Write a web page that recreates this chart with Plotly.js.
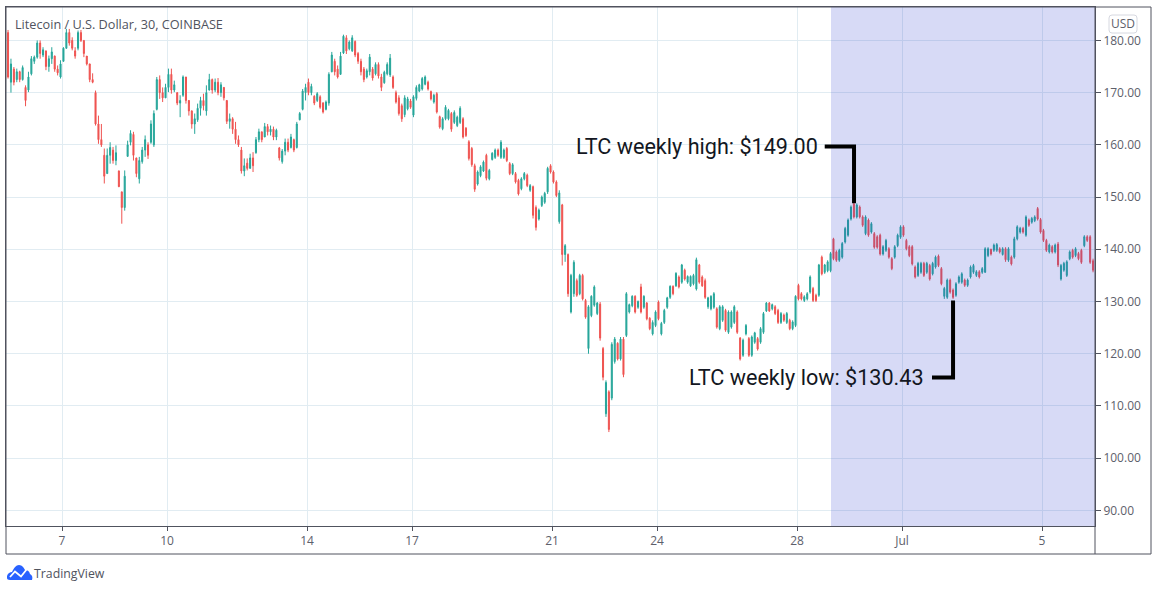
<!DOCTYPE html>
<html><head><meta charset="utf-8">
<script src="https://cdn.plot.ly/plotly-3.0.1.min.js"></script>
<style>html,body{margin:0;padding:0;background:#fff;overflow:hidden}#c{position:absolute;left:0;top:0;width:1158px;height:591px}#logo{position:absolute;left:7px;top:565px}</style>
</head><body><div id="c"></div>
<svg id="logo" width="26" height="16" viewBox="0 0 26 16"><path d="M0 13 L0 11 C1 8 3 7 5 7 C7 3 9 0 12 0 C15 0 17 3 18 5 C21 5 22 6 23 9 C25 10 26 12 25 15 L3 15 C1 15 0 14 0 13 Z" fill="#2962ff"/><path d="M3 12 L8 6.5 L14 11.5 L20 4" fill="none" stroke="#fff" stroke-width="1.8"/></svg>
<script>
const yearStart = "2020-06-05T11:00:00Z";
const stepHours = 2;
const opens = [
181.5,172,174.5,172.5,174,172.5,171,170.5,173.6,176,
176.8,179.5,177.2,178,175,176.5,177,174.5,173,176,
178.5,181.5,180,178,178.5,181.5,180,177,175.5,172.5,
170,164,161,158,154.5,158,159,157,155,151,
148,157.8,160.5,162,157.5,153.5,156.8,159,160,160.5,
160,166.8,172.5,170,169,171,173.5,170.5,170,168,
169.5,173,168.5,166.5,164,164.8,167,168.5,166.5,170.5,
172.5,170.5,172,170,171,168.5,164.5,165,163,161,
159,155,156.5,155.5,157.5,158.5,161,162.5,161.5,163.5,
162.5,163,161.5,159.4,156.8,158.8,160.5,159.5,161,159.5,
164.8,166.8,170,172,170,169.3,168.5,169.2,168,166.8,
168,174,176,174.5,173.5,177.6,180.5,178.4,178,179.8,
177.5,176,174.5,173,174,174.5,173.6,175.4,173,171.9,
173.6,173.4,173,170,169,167.5,165.8,166.9,168.4,165.7,
168.9,170.3,170.7,171.6,172,170.2,168.2,169.8,165.4,163.1,
165,165,166,164.3,163.7,164.3,165,163.2,160.6,159.3,
156,152.5,154.1,155,158,153.5,157.2,157.6,159,157.6,
157.6,159.3,156.4,154.5,154.5,153.2,151.6,153.5,154.2,151.3,
152,148,145.8,148.4,149,151,156,154.8,152.9,145.3,
148.5,139,139,128,131.5,134,131.5,135,130.2,121,
127.3,129.3,127.7,129.5,121,108.5,112.7,111.5,118.5,122,
119,122.8,123.5,128,129.2,131,128.9,132.8,128.9,129.7,
126.8,123.8,125.4,129.9,123.8,126,128.9,130.8,132.9,133,
134.7,133.7,136,133.7,133,133.4,132.4,137,134.7,134,
129,128.6,128.9,128.6,124.8,126.4,128.3,124.1,125.1,126,
128,123,119.7,123.8,122.9,119.7,122.2,122.9,122.2,124.1,
128.2,129.7,128.6,129,128.3,126,127.4,126,126.4,124.8,
125.4,133.1,131.5,130.2,130.5,131.8,132.5,131.2,131.2,138.5,
135.6,135.9,135.9,142,139.5,137.9,138.5,141.4,142.7,145.8,
148.7,146.2,148.1,146.2,143,145.6,143.3,143,142.4,142.7,
139.1,139.8,140.1,138.2,138.5,140.7,142.3,144.3,141.7,140.5,
140.5,136.6,135,135.6,137.3,135.6,136.9,135.3,136.6,138.7,
136.3,131,130.8,134.1,132.2,131.2,133.7,133.7,134.1,133.1,
134.7,135.6,135,135.7,135.6,135.6,138.8,140,139.8,139.8,
140.1,139,140.1,137.9,138.5,138.5,142,143.3,144,142.7,
145.6,145.2,145.5,147.8,145.7,143.6,141.7,139.5,140.5,139.5,
141,134.3,136,135,138.2,139.8,138.8,139.2,139.8,140.7,
142.4,142.4,137.8];
const highs = [
182,176.5,174.9,174.6,174.2,175.2,171.4,174,177,177.1,
180,180,178.7,178,177.1,178.7,177.1,175.2,176.2,178.7,
182.2,182.2,180.6,178.7,181.9,182,180,176.8,175.2,173.7,
170.4,165.6,164,159.3,159.3,160.5,159.6,159.9,155.1,151,
155.1,160.8,162.8,162.5,157,157.7,159.6,161.8,160.5,164.7,
166.6,173,173.3,171,171.7,174.6,174.6,172.3,169.8,169.5,
173.3,171.7,167.9,166.6,166,167.9,169.2,169.8,171.4,173.6,
172.7,172.7,172.8,172,170.4,167.2,166,165.3,164.4,161.8,
159.6,157.4,157.4,158.3,158.6,161.5,163.1,162.5,164.2,164,
163.7,163.5,163.1,159.6,159.2,161.2,161.2,162.1,161.2,164.4,
166.3,170.7,171.7,172.7,171.7,169.5,170.1,169.5,168.2,168.5,
173.9,177.8,176.5,175.2,177.8,181.1,181,180,181,180,
177.8,176.5,174.9,174.6,177.4,174.9,175.8,175.8,173.6,174.2,
175.8,177.4,173.3,170.4,169.5,167.9,169.5,169.2,168.8,169.5,
171.4,171.7,173,173.3,172.3,170.4,169.8,170.1,165.6,165.3,
167.6,166.9,166.3,166.6,165.6,167.4,165.3,163.4,160.9,159.6,
156.4,155.1,156.1,157,158.3,155.4,158.6,159.3,159.3,160.9,
159.3,159.6,156.7,156.5,154.8,153.5,153.8,154.8,154.5,152.5,
152.2,148.4,147.8,150.3,151,155.8,156.3,155.1,153.2,151.3,
148.7,141,139.2,135.3,137.9,134.4,135.3,135.3,130.5,129.3,
131.2,133.1,129.9,129.9,121.3,114.9,113,122.2,123.2,122.2,
123.2,123.2,131.8,129.6,131.2,131.2,130.2,133.4,131.2,129.9,
127,126.4,128.3,130.2,126.1,128.6,130.9,133.1,133.1,135.6,
135,137.2,136.3,135,135,135.3,138.4,137.2,135,134.4,
130.9,131.2,131.8,128.9,129.3,129.3,128.6,128.3,128.3,129.3,
128.3,123.2,122.9,125.7,123.2,123.5,124.2,123.2,125.1,128,
129.9,129.9,129.6,129.3,128.6,128,127.7,128,126.7,126.4,
131.2,133.4,131.8,131.2,131.8,135,132.8,131.5,137.2,138.8,
137.2,137.9,139.5,142.2,139.8,140.1,141.4,144.3,145.9,148.4,
149,148.8,148.4,146.5,146.5,145.9,145.2,143.3,142.7,143,
140.8,142,140.4,138.5,140.8,143,144.6,144.6,142,140.8,
140.8,136.9,137.6,137.6,137.6,137.6,137.2,137.6,138.8,139,
136.6,132.8,134.4,134.4,132.5,133.7,135,135.6,134.4,134.4,
136.9,137.2,136,136,136.6,140.4,140.4,140.1,141.1,141.2,
140.4,140.4,140.4,140.4,138.8,142.4,144.6,144.3,144.3,146.5,
145.9,146.2,146.5,148.1,146,143.9,142,141.1,140.8,141.1,
141.4,137.2,137.6,137.9,139.8,140.1,140.4,139.5,140.1,142.7,
142.7,142.7,138.2];
const lows = [
172.7,170,171.4,172,172,172.3,167.4,170.1,173.3,175.5,
176.5,176.5,176.8,174.3,174,175.5,174,173.3,172.7,176.2,
178.4,179,178.1,176.5,178.1,179.7,176.8,175.2,172,171.8,
163.7,160.2,159.6,152.6,154.5,156.4,156.4,156.1,151.9,144.9,
147.4,157.7,159.9,157,153.8,152.6,156.4,157.7,157.3,160.2,
159.6,166.6,168.8,168.2,169.2,170.1,169.8,170.1,167.6,165.3,
169.2,167.9,165.6,163.1,162.1,164.4,165.6,166.6,165.6,170.4,
169.8,170.1,169.5,169.2,168.5,164,163.1,162.1,160.2,159.6,
154.5,154,155.1,156.1,154.8,158.3,160.5,160.5,161.5,161.8,
161.8,160.9,160.9,157,156.4,158,158.6,159.3,158.6,159.3,
164.7,166.6,168.5,169.5,169.5,167.6,168.2,166.9,166,166.6,
167.5,173.9,173.3,172.7,174.3,177.4,177.4,178.1,177.8,176.8,
175.5,173.3,172,172.7,173.3,172.3,173.3,172.7,170.3,171.7,
173.3,173,170.7,167.9,165.6,164.4,165.3,166.6,166.9,165.3,
168.5,170.1,170.4,171.4,170.4,168.5,167.9,166,163.1,162.8,
164.7,164.7,162.5,164,163.4,164,161.2,161.5,157,155.8,
151,152.2,153.8,154.8,153.2,153.2,157,157.3,157.7,157.3,
157.3,156.7,154.2,154.2,152.6,150.3,151.3,153.2,151.9,151,
145.9,143.6,145.5,148.1,148.7,150.6,154.5,152.6,150,144.9,
136.9,137.6,130.9,127.7,130.9,130.9,131.2,130.2,126.7,120,
127,129,127.4,122.5,114.9,107.9,105,111.1,118.1,118.7,
118.7,115.5,123.2,127.7,128.9,127.7,128.6,127.7,128.6,126.4,
124.5,123.5,125.1,126.4,123.5,125.7,128.6,130.5,131.2,132.8,
132.5,133.4,134,133.4,132.8,133.1,132.1,133.4,132.8,130.5,
128.6,128.3,128.6,124.8,124.5,126.1,124.2,123.8,124.8,125.7,
123.8,118.7,119.4,123.5,119.4,119.4,121.9,120.6,121.9,123.8,
128,128,128.3,127.4,125.7,125.7,126.1,125.7,124.5,124.5,
125.1,130.2,130.2,129.9,130.2,131.5,129.9,129.9,130.9,135,
135.3,135.6,135.6,137.9,137.6,137.6,138.2,141.1,142.4,145.5,
145.9,145.9,145.9,144.3,142.7,142.4,143,140.1,140.1,138.8,
138.8,139.5,138.2,136,138.2,140.4,142,142.4,139.8,138.5,
136.9,134.4,134.7,135.3,134.7,135.3,134,135,136.3,136.6,
133.1,130.5,130.5,131.5,130.5,130.9,133.4,133.4,132.8,132.8,
134.4,135.3,134.7,134.4,135.3,135.5,138.5,138.8,139.5,139.5,
139.2,138.8,137.6,137.6,136.9,138.2,141.7,143,143,142.4,
144.3,144.9,145.2,145.5,143,141.4,139.5,139.2,139.2,139.2,
136.6,134,135.7,134.7,137.9,138.2,138.5,137.9,137.2,140.4,
141.4,137.2,135.6];
const closes = [
173,175.5,172,174,172.5,174.8,168.5,173,176.5,176.8,
179.5,177.5,178.2,175,176.5,177.8,174.5,173.8,175.5,178.5,
181.5,179.5,178.5,177,181.5,180,177.5,175.5,172.5,172,
164,161,160,154,158,159.5,157,158.5,152,148,
154,160,162.2,158,154.5,157,159,161,158,164,
166,172.5,170,169,171,173.5,170.5,171.5,168,168.5,
173,168.5,166.5,164,165,167,168.5,167.5,170,172.5,
170.5,172,170,171.5,169,164.5,165,163,161,160,
155,156,155.5,157.5,156,161,162.5,161,163.5,162.5,
163,161.5,162.8,157.5,158.8,160.5,159,161.5,159,164,
166,170.3,171,170,171.2,168,169.8,167.2,166.3,168.2,
173.5,177.2,174,173,177,180.8,178,179.7,180.5,177.2,
176,174,172.5,174.2,176.8,172.8,175.4,173.2,171,173.9,
175.4,176.6,171,168.2,166,165,169,168.8,167.2,169.2,
171,171.5,172.7,173,170.7,168.8,169.5,166.3,163.4,165,
167.2,166.6,163,166.2,165.3,167,161.5,161.8,157.4,156.2,
151.5,154.8,155.8,156.7,153.6,155.1,158.4,159,158,160.5,
159,157,154.5,156.2,152.9,150.6,153.5,154.5,152.2,152.2,
146.5,144.2,147.5,150,150.7,155.5,154.8,152.9,150.3,150.8,
139,140.7,131.5,135,137.5,131.2,135,130.5,127,129,
131,132.8,129.7,123,115.5,114.5,105.5,121.8,122.8,119,
122.8,116,131.5,129.4,131,128,130,128,131,126.7,
124.8,126,128,126.7,125.8,128.3,130.7,132.9,131.5,135.4,
132.8,137,134.3,134.8,134.8,135,138,133.7,133,130.8,
130.7,131,131.5,125.1,129,129,124.5,128,128,129,
124.1,119,122.6,125.4,119.7,123.2,124,120.9,124.8,127.7,
129.7,128.2,129.4,127.7,126,127.7,126.4,127.7,124.8,126.1,
131,130.5,130.5,130.9,131.5,134.7,130.2,130.2,137,135.3,
137,137.6,139.2,138.2,137.9,139.8,141.1,144,145.6,148.1,
146.2,148.5,146.2,144.6,146.2,142.7,144.9,140.4,140.4,139.1,
140.5,141.7,138.5,136.3,140.5,142.7,144.3,142.7,140.1,138.8,
137.2,134.7,137.3,137.3,135,137.3,134.3,137.3,138.5,136.9,
133.4,132.5,134.1,131.8,130.8,133.4,134.7,135.3,133.1,134.1,
136.6,136.9,135.7,134.7,136.3,140.1,140.1,139.1,140.8,140.9,
139.5,140.1,138,140.1,137.2,142,144.3,144,143.3,146.2,
144.6,145.9,146.2,145.8,143.3,141.7,139.8,140.8,139.5,140.8,
137,136.9,137.3,137.6,139.5,138.5,140.1,138.2,137.5,142.4,
141.7,137.5,136];
const yTicks = [90,100,110,120,130,140,150,160,170,180];
const xTickVals = ["2020-06-07","2020-06-10","2020-06-14","2020-06-17","2020-06-21","2020-06-24","2020-06-28","2020-07-01","2020-07-05"];
const xTickText = ["7","10","14","17","21","24","28","Jul","5"];
const xWindow = ["2020-06-05 09:36","2020-07-06 12:20"];
const yWindow = [87.01,186.4];
const shadeStart = "2020-06-28 23:18";
const highNote = "LTC weekly high: $149.00";
const lowNote = "LTC weekly low: $130.43";
const highPointerX = ["2020-06-28_19:00","2020-06-29_15:06","2020-06-29_15:06"];
const highPointerY = [159.7,159.7,148.8];
const lowPointerX = ["2020-07-01_20:34","2020-07-02_11:00","2020-07-02_11:00"];
const lowPointerY = [115.47,115.47,130.2];

const startMs = Date.parse(yearStart);
const times = opens.map((_,i)=>new Date(startMs+i*stepHours*3600000).toISOString());

const W=1158,H=591,L=6,R=1095,T=7,B=526;
const px=x=>(x-L)/(R-L), py=y=>1-(y-T)/(B-T);
const pathOf=(xs,ys)=>xs.map((x,i)=>(i?"L":"M")+x+","+ys[i]).join(" ");
const frameColor="#50535e";
const badge=`M${px(1112)},${py(15)} L${px(1134)},${py(15)} Q${px(1137)},${py(15)} ${px(1137)},${py(18)} L${px(1137)},${py(30)} Q${px(1137)},${py(33)} ${px(1134)},${py(33)} L${px(1112)},${py(33)} Q${px(1109)},${py(33)} ${px(1109)},${py(30)} L${px(1109)},${py(18)} Q${px(1109)},${py(15)} ${px(1112)},${py(15)} Z`;

const trace={type:"candlestick",x:times,open:opens,high:highs,low:lows,close:closes,
  increasing:{line:{color:"#26a69a",width:1},fillcolor:"#26a69a"},
  decreasing:{line:{color:"#ef5350",width:1},fillcolor:"#ef5350"},
  whiskerwidth:0,hoverinfo:"skip",showlegend:false};

const axisFont={family:"'Open Sans',sans-serif",size:12,color:"#5d606b"};
const layout={width:W,height:H,autosize:false,margin:{l:L,r:W-R,t:T,b:H-B,pad:0},
  paper_bgcolor:"#fff",plot_bgcolor:"#fff",showlegend:false,dragmode:false,boxgap:0.5,boxgroupgap:0.3,
  xaxis:{type:"date",range:xWindow,tickmode:"array",tickvals:xTickVals,ticktext:xTickText,
    rangeslider:{visible:false},showgrid:true,gridcolor:"#e1ecf2",gridwidth:1,zeroline:false,
    showline:true,linecolor:frameColor,linewidth:1,mirror:true,ticks:"outside",ticklen:4,tickcolor:frameColor,tickfont:axisFont,tickangle:0},
  yaxis:{side:"right",range:yWindow,tickmode:"array",tickvals:yTicks,ticktext:yTicks.map(v=>v.toFixed(2)),
    showgrid:true,gridcolor:"#e1ecf2",gridwidth:1,zeroline:false,
    showline:true,linecolor:frameColor,linewidth:1,mirror:true,ticks:"outside",ticklen:5,tickcolor:frameColor,tickfont:axisFont},
  shapes:[
    {type:"rect",layer:"above",xref:"x",yref:"paper",x0:shadeStart,x1:xWindow[1],y0:0,y1:1,fillcolor:"rgba(45,60,205,0.19)",line:{width:0}},
    {type:"path",layer:"above",xref:"x",yref:"y",path:pathOf(highPointerX,highPointerY),line:{color:"#000",width:4},fillcolor:"rgba(0,0,0,0)"},
    {type:"path",layer:"above",xref:"x",yref:"y",path:pathOf(lowPointerX,lowPointerY),line:{color:"#000",width:4},fillcolor:"rgba(0,0,0,0)"},
    {type:"rect",layer:"above",xref:"paper",yref:"paper",x0:px(6),x1:px(1151),y0:py(554),y1:py(7),line:{color:frameColor,width:1},fillcolor:"rgba(0,0,0,0)"},
    {type:"line",layer:"above",xref:"paper",yref:"paper",x0:px(1095),x1:px(1095),y0:py(554),y1:py(7),line:{color:frameColor,width:1}},
    {type:"path",layer:"above",xref:"paper",yref:"paper",path:badge,line:{color:"#d6d8e0",width:1},fillcolor:"#fff"}
  ],
  annotations:[
    {xref:"paper",yref:"paper",x:px(15),y:py(24),xanchor:"left",yanchor:"middle",xshift:-2,showarrow:false,text:"Litecoin / U.S. Dollar, 30, COINBASE",font:{family:"'Open Sans',sans-serif",size:12.7,color:"#50535e"}},
    {xref:"x",yref:"y",x:"2020-06-28 14:24",y:highPointerY[0],xanchor:"right",yanchor:"middle",xshift:2,showarrow:false,text:highNote,font:{family:"Roboto",size:21.6,color:"#131722"}},
    {xref:"x",yref:"y",x:"2020-07-01 15:05",y:lowPointerY[0],xanchor:"right",yanchor:"middle",xshift:2,showarrow:false,text:lowNote,font:{family:"Roboto",size:21.6,color:"#131722"}},
    {xref:"paper",yref:"paper",x:px(1123),y:py(24),xanchor:"center",yanchor:"middle",showarrow:false,text:"USD",font:{family:"'Open Sans',sans-serif",size:12,color:"#5d606b"}},
    {xref:"paper",yref:"paper",x:px(34),y:py(573),xanchor:"left",yanchor:"middle",xshift:-2,showarrow:false,text:"TradingView",font:{family:"'Open Sans',sans-serif",size:12.3,color:"#50535e"}}
  ]};
Plotly.newPlot("c",[trace],layout,{displayModeBar:false,staticPlot:true});
</script></body></html>
